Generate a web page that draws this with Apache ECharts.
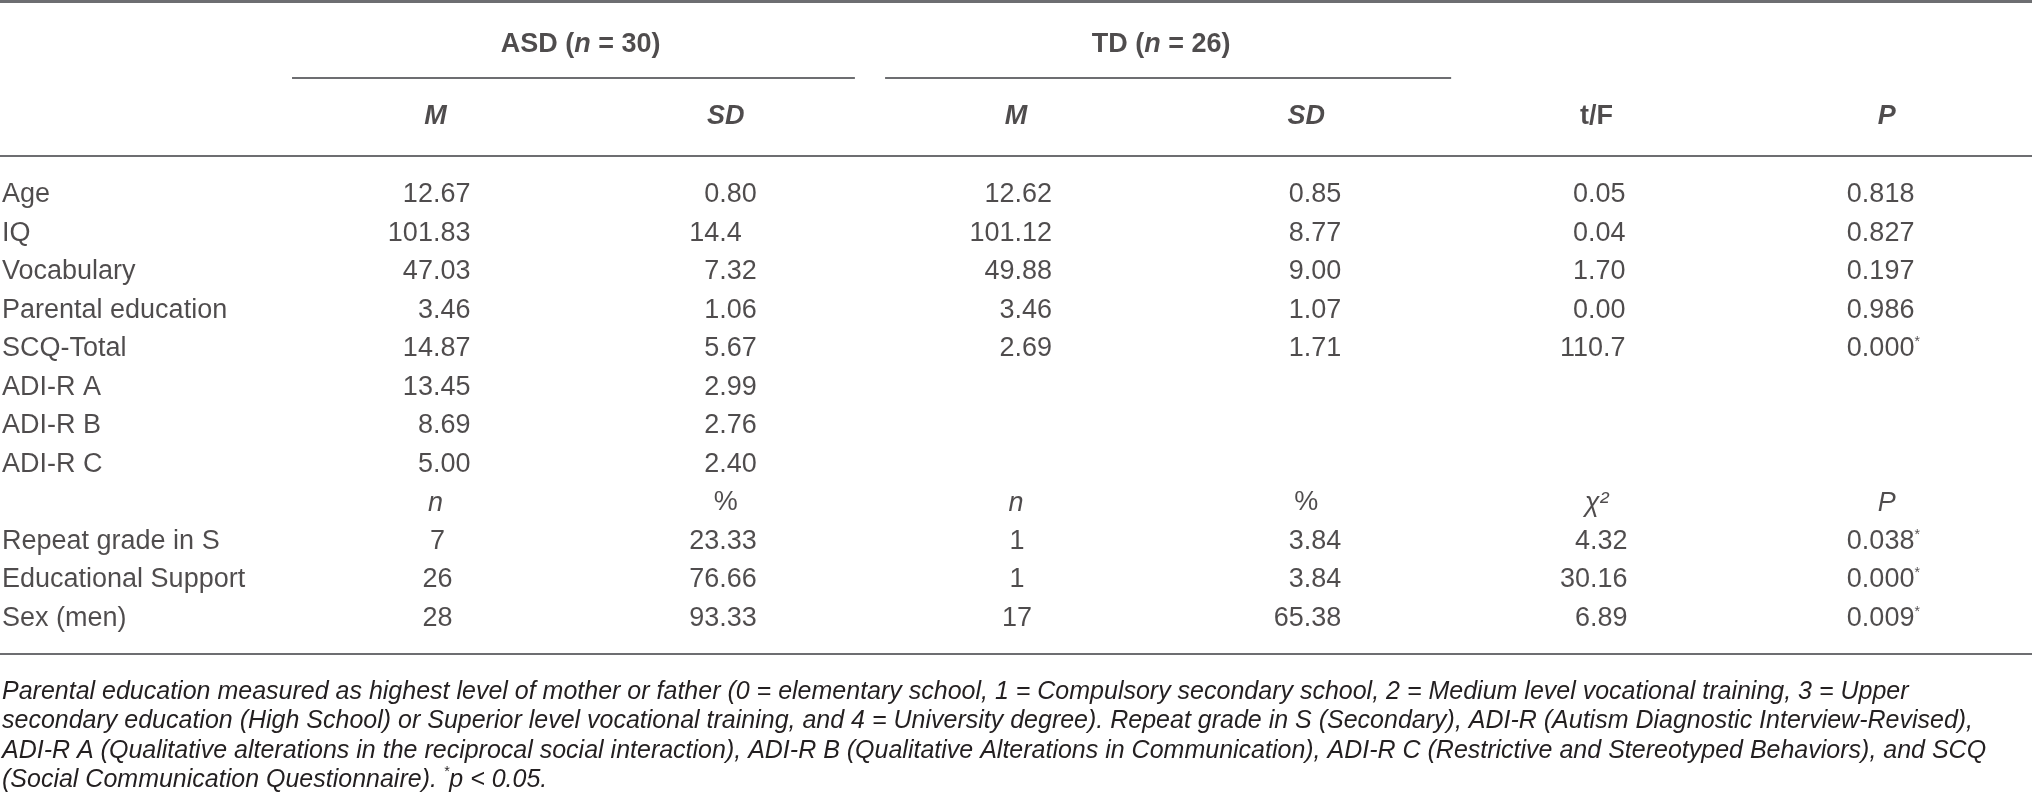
<!DOCTYPE html>
<html><head><meta charset="utf-8">
<script src="https://cdn.jsdelivr.net/npm/echarts@6/dist/echarts.min.js"></script>
<style>html,body{margin:0;padding:0;background:#fff}#c{width:2032px;height:807px}</style>
</head><body><div id="c"></div>
<script>
// ---------- DATA ----------
const groupNames = ['ASD', 'TD'];
const groupN = [30, 26];
const statHeaders = ['M', 'SD', 'M', 'SD', 't/F', 'P'];
const countHeaders = ['n', '%', 'n', '%', 'χ²', 'P'];
const contRows = ['Age', 'IQ', 'Vocabulary', 'Parental education', 'SCQ-Total', 'ADI-R A', 'ADI-R B', 'ADI-R C'];
const asdMean = ['12.67', '101.83', '47.03', '3.46', '14.87', '13.45', '8.69', '5.00'];
const asdSD = ['0.80', '14.4', '7.32', '1.06', '5.67', '2.99', '2.76', '2.40'];
const tdMean = ['12.62', '101.12', '49.88', '3.46', '2.69'];
const tdSD = ['0.85', '8.77', '9.00', '1.07', '1.71'];
const tF = ['0.05', '0.04', '1.70', '0.00', '110.7'];
const pCont = ['0.818', '0.827', '0.197', '0.986', '0.000'];
const pContSig = [false, false, false, false, true];
const catRows = ['Repeat grade in S', 'Educational Support', 'Sex (men)'];
const asdN = ['7', '26', '28'];
const asdPct = ['23.33', '76.66', '93.33'];
const tdN = ['1', '1', '17'];
const tdPct = ['3.84', '3.84', '65.38'];
const chi2 = ['4.32', '30.16', '6.89'];
const pCat = ['0.038', '0.000', '0.009'];
const pCatSig = [true, true, true];
const footnoteLines = [
  'Parental education measured as highest level of mother or father (0 = elementary school, 1 = Compulsory secondary school, 2 = Medium level vocational training, 3 = Upper',
  'secondary education (High School) or Superior level vocational training, and 4 = University degree). Repeat grade in S (Secondary), ADI-R (Autism Diagnostic Interview-Revised),',
  'ADI-R A (Qualitative alterations in the reciprocal social interaction), ADI-R B (Qualitative Alterations in Communication), ADI-R C (Restrictive and Stereotyped Behaviors), and SCQ',
  '(Social Communication Questionnaire). {sup|*}p < 0.05.'
];

// ---------- LAYOUT / STYLE ----------
const W = 2032, H = 807, ROW_H = 38.5, FIRST_ROW_Y = 195;
const yMin = -FIRST_ROW_Y / ROW_H, yMax = yMin + H / ROW_H;
const Y = { topRule: -5.04, group: -3.9, groupRule: -3.04, stat: -2.03, headRule: -1.01, bottomRule: 11.92 };
const FONT = 'Liberation Sans, Arial, sans-serif';
const TXT = '#231f20';
const RULE = '#6d6e71';
const FS = 27;

const contCols = [
  { vals: asdMean, align: 'right', dx: 35 },
  { vals: asdSD, align: 'right', dx: 31, decimals: 2 },
  { vals: tdMean, align: 'right', dx: 36 },
  { vals: tdSD, align: 'right', dx: 35 },
  { vals: tF, align: 'right', dx: 29 },
  { vals: pCont, sig: pContSig, align: 'left', dx: -40 }
];
const catCols = [
  { vals: asdN, align: 'center', dx: 2 },
  { vals: asdPct, align: 'right', dx: 31 },
  { vals: tdN, align: 'center', dx: 1 },
  { vals: tdPct, align: 'right', dx: 35 },
  { vals: chi2, align: 'right', dx: 31 },
  { vals: pCat, sig: pCatSig, align: 'left', dx: -40 }
];

function decAlign(s, decimals) {
  if (!decimals) return s;
  const d = s.indexOf('.') >= 0 ? s.split('.')[1].length : 0;
  return d < decimals ? s + '{ghost|' + '0'.repeat(decimals - d) + '}' : s;
}

const cells = [];
function add(x, y, text, lab) {
  cells.push({ value: [x, y], label: Object.assign({ formatter: text, align: 'center', offset: [0, 0] }, lab) });
}

// group headers
groupNames.forEach((g, i) => {
  add(1.5 + 2 * i, Y.group, '{hb|' + g + ' (}{hbi|n}{hb| = ' + groupN[i] + ')}', {});
});
// stat headers
statHeaders.forEach((h, i) => {
  const italic = h !== 't/F';
  add(i + 1, Y.stat, (italic ? '{hbi|' : '{hb|') + h + '}', {});
});
// continuous rows
contRows.forEach((r, j) => {
  add(-0.5, j, r, { align: 'left', offset: [2, 0] });
  contCols.forEach((c, i) => {
    if (j >= c.vals.length) return;
    let t = decAlign(c.vals[j], c.decimals);
    if (c.sig && c.sig[j]) t += '{sup|*}';
    add(i + 1, j, t, { align: c.align, offset: [c.dx, 0] });
  });
});
// count header row
const countRowY = contRows.length;
countHeaders.forEach((h, i) => {
  add(i + 1, countRowY, (h === '%' ? h : '{it|' + h + '}'), {});
});
// categorical rows
catRows.forEach((r, j) => {
  const y = countRowY + 1 + j;
  add(-0.5, y, r, { align: 'left', offset: [2, 0] });
  catCols.forEach((c, i) => {
    let t = c.vals[j];
    if (c.sig && c.sig[j]) t += '{sup|*}';
    add(i + 1, y, t, { align: c.align, offset: [c.dx, 0] });
  });
});

function rule(x1, x2, y, w) {
  return [{ coord: [x1, y], lineStyle: { width: w } }, { coord: [x2, y] }];
}

const chart = echarts.init(document.getElementById('c'), null, { renderer: 'canvas' });
chart.setOption({
  animation: false,
  backgroundColor: '#fff',
  title: {
    text: footnoteLines.join('\n'),
    left: 2, top: 677, padding: 0,
    textStyle: {
      fontFamily: FONT, fontSize: 25, fontStyle: 'italic', fontWeight: 'normal', color: TXT, lineHeight: 29.5,
      rich: { sup: { fontFamily: FONT, fontSize: 14, fontStyle: 'italic', color: TXT, verticalAlign: 'top', lineHeight: 22 } }
    }
  },
  grid: { left: 0, right: 0, top: 0, bottom: 0, containLabel: false },
  xAxis: { type: 'value', min: -0.5, max: 6.5, show: false },
  yAxis: { type: 'value', min: yMin, max: yMax, inverse: true, show: false },
  series: [{
    type: 'scatter',
    symbolSize: 1,
    itemStyle: { color: 'rgba(0,0,0,0)' },
    silent: true,
    label: {
      show: true, position: 'inside', verticalAlign: 'middle',
      fontFamily: FONT, fontSize: FS, color: TXT,
      rich: {
        hb: { fontFamily: FONT, fontSize: FS, fontWeight: 'bold', color: TXT },
        hbi: { fontFamily: FONT, fontSize: FS, fontWeight: 'bold', fontStyle: 'italic', color: TXT },
        it: { fontFamily: FONT, fontSize: FS, fontStyle: 'italic', color: TXT },
        ghost: { fontFamily: FONT, fontSize: FS, color: 'rgba(0,0,0,0)' },
        sup: { fontFamily: FONT, fontSize: 14, color: TXT, verticalAlign: 'top', lineHeight: 14 }
      }
    },
    data: cells,
    markLine: {
      silent: true, symbol: 'none', animation: false,
      label: { show: false },
      lineStyle: { color: RULE, type: 'solid', width: 2 },
      data: [
        rule(-0.5, 6.5, Y.topRule, 3),
        rule(0.506, 2.445, Y.groupRule, 2),
        rule(2.549, 4.499, Y.groupRule, 2),
        rule(-0.5, 6.5, Y.headRule, 2),
        rule(-0.5, 6.5, Y.bottomRule, 2)
      ]
    }
  }]
});
</script></body></html>
